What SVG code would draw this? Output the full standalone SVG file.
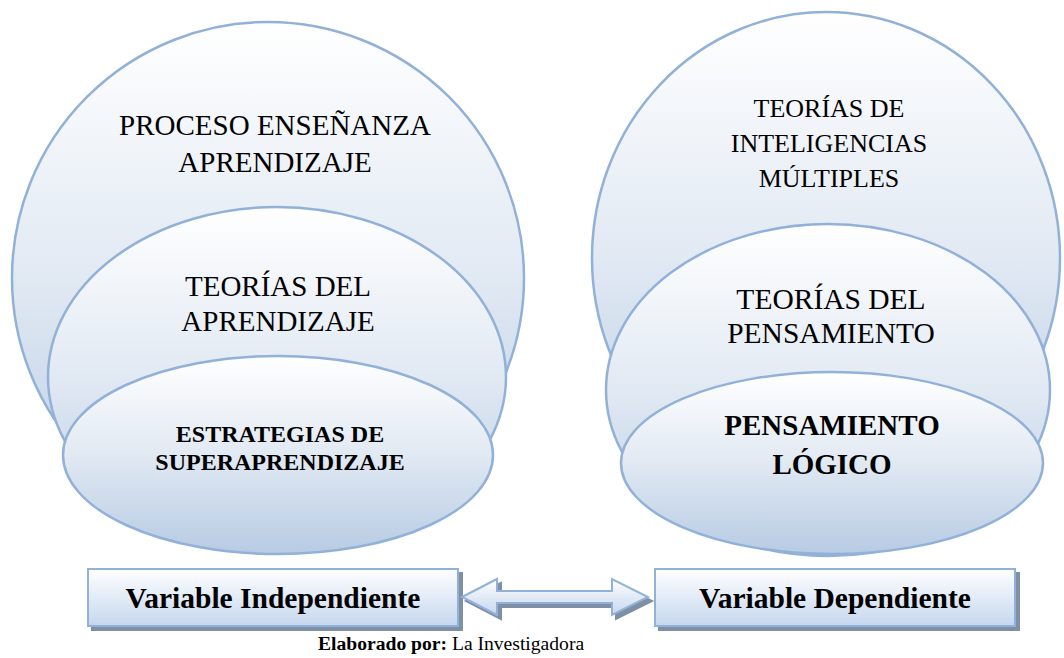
<svg xmlns="http://www.w3.org/2000/svg" width="1064" height="658" viewBox="0 0 1064 658">
<defs>
<linearGradient id="g" x1="0" y1="0" x2="0" y2="1">
<stop offset="0" stop-color="#ffffff"/>
<stop offset="0.5" stop-color="#e1e9f3"/>
<stop offset="1" stop-color="#b7cbe3"/>
</linearGradient>
<linearGradient id="gb" x1="0" y1="0" x2="0" y2="1">
<stop offset="0" stop-color="#ffffff"/>
<stop offset="1" stop-color="#c5d7ee"/>
</linearGradient>
<filter id="sh" x="-10%" y="-20%" width="120%" height="150%">
<feOffset in="SourceAlpha" dx="4" dy="4" result="o"/>
<feFlood flood-color="#7f8fa6"/>
<feComposite in2="o" operator="in"/>
<feMerge><feMergeNode/><feMergeNode in="SourceGraphic"/></feMerge>
</filter>
</defs>
<style>
.s{fill:url(#g);stroke:#92b1d8;stroke-width:2.5}
.b{fill:url(#gb);stroke:#92b1d8;stroke-width:2}
text{font-family:"Liberation Serif","Times New Roman",serif;fill:#000;text-anchor:middle}
.r{font-size:29px}
.r2{font-size:26px}
.bd{font-weight:bold}
</style>
<g id="left-outer"><circle class="s" cx="268" cy="278" r="256"/>
<text class="r" x="275" y="135">PROCESO ENSEÑANZA</text>
<text class="r" x="275" y="172">APRENDIZAJE</text></g>
<g id="left-middle"><ellipse class="s" cx="277" cy="377" rx="229" ry="170"/>
<text class="r" x="278" y="296">TEORÍAS DEL</text>
<text class="r" x="278" y="331">APRENDIZAJE</text></g>
<g id="left-inner"><ellipse class="s" cx="278" cy="455" rx="215" ry="99"/>
<text class="bd" style="font-size:24px" x="280" y="442">ESTRATEGIAS DE</text>
<text class="bd" style="font-size:24px" x="280" y="470">SUPERAPRENDIZAJE</text></g>
<g id="right-outer"><ellipse class="s" cx="826" cy="258" rx="234" ry="246"/>
<text class="r2" x="829" y="117">TEORÍAS DE</text>
<text class="r2" x="829" y="152">INTELIGENCIAS</text>
<text class="r2" x="829" y="187">MÚLTIPLES</text></g>
<g id="right-middle"><ellipse class="s" cx="828" cy="390" rx="222" ry="166"/>
<text class="r" style="font-size:29.5px" x="831" y="309">TEORÍAS DEL</text>
<text class="r" style="font-size:29.5px" x="831" y="343">PENSAMIENTO</text></g>
<g id="right-inner"><ellipse class="s" cx="832" cy="463" rx="211" ry="91"/>
<text class="bd" style="font-size:29px" x="832" y="435">PENSAMIENTO</text>
<text class="bd" style="font-size:29px" x="832" y="474">LÓGICO</text></g>
<g id="var-ind"><rect class="b" x="88" y="569" width="370" height="57" filter="url(#sh)"/>
<text class="bd" style="font-size:29.5px" x="273" y="608">Variable Independiente</text></g>
<g id="var-dep"><rect class="b" x="655" y="569" width="360" height="57" filter="url(#sh)"/>
<text class="bd" style="font-size:29.5px" x="835" y="608">Variable Dependiente</text></g>
<g id="connectors">
<path class="b" filter="url(#sh)" d="M462,597 L497,579 L497,591 L612,591 L612,579 L648,597 L612,615 L612,603 L497,603 L497,615 Z"/>
</g>
<text x="318" y="650" style="font-size:19.6px;text-anchor:start"><tspan font-weight="bold">Elaborado por:</tspan> La Investigadora</text>
</svg>
